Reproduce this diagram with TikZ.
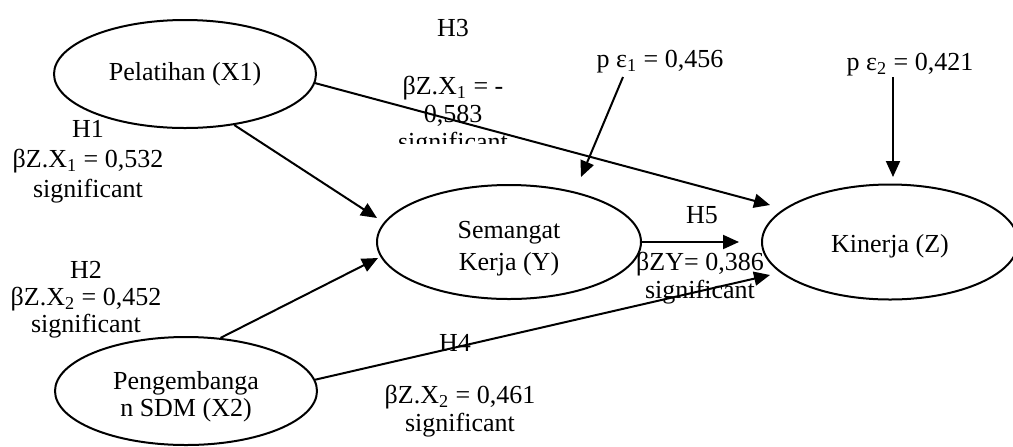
\documentclass[tikz,border=0pt]{standalone}
\usepackage{fontspec}
\setmainfont{Liberation Serif}
\usetikzlibrary{shapes.geometric,arrows.meta}
\begin{document}
\begin{tikzpicture}[x=0.5pt,y=-0.5pt,
  font=\fontsize{13pt}{15pt}\selectfont,
  var/.style={ellipse,draw,line width=1pt,inner sep=0pt,align=center},
  lbl/.style={align=center,inner sep=0pt},
  arr/.style={line width=1pt,-{Triangle[length=8pt,width=7pt]}}]
\useasboundingbox (0,0) rectangle (1013,446);
% variables
\node[var,minimum width=131pt,minimum height=54pt] (X1) at (185,74) {Pelatihan (X1)};
\node[var,minimum width=132pt,minimum height=57pt] (Y) at (509,242)
  {\raisebox{-3pt}[\height][\depth]{\begin{tabular}{@{}c@{}}Semangat\\[1pt]Kerja (Y)\end{tabular}}};
\node[var,minimum width=128pt,minimum height=57.5pt] (Z) at (890,242) {\raisebox{-2pt}[\height][\depth]{Kinerja (Z)}};
\node[var,minimum width=131pt,minimum height=54pt] (X2) at (186,391)
  {\raisebox{-3pt}[\height][\depth]{\begin{tabular}{@{}c@{}}Pengembanga\\[-1.5pt]n SDM (X2)\end{tabular}}};
% labels
\node[lbl] (h3) at (453,28) {H3};
\begin{scope}
\clip (380,60) rectangle (560,143);
\node[lbl,font=\fontsize{13pt}{14pt}\selectfont] (b3) at (453,116) {βZ.X\textsubscript{1} = -\\0,583\\significant};
\end{scope}
\node[lbl] (h1) at (88,162) {H1\\βZ.X\textsubscript{1} = 0,532\\significant};
\node[lbl,font=\fontsize{13pt}{13.5pt}\selectfont] (h2) at (86,300) {H2\\βZ.X\textsubscript{2} = 0,452\\significant};
\node[lbl] (h4) at (455,343) {H4};
\node[lbl,font=\fontsize{13pt}{14pt}\selectfont] (b4) at (460,411) {βZ.X\textsubscript{2} = 0,461\\significant};
\node[lbl] (h5) at (702,215) {H5};
\node[lbl,font=\fontsize{13pt}{14pt}\selectfont] (b5) at (700,278) {βZY= 0,386\\significant};
\node[lbl] (pe1) at (660,62) {p ε\textsubscript{1} = 0,456};
\node[lbl] (pe2) at (910,65) {p ε\textsubscript{2} = 0,421};
% connector ends
\coordinate (tY1) at (377,218);
\coordinate (tY2) at (378,258);
\coordinate (tZ1) at (770,205);
\coordinate (tZ5) at (739,242);
\coordinate (tZ4) at (770,275);
\coordinate (e1s) at (623,77);
\coordinate (e1t) at (581,177);
\coordinate (e2s) at (893,77);
\coordinate (e2t) at (893,177);
% connectors
\draw[arr] (X1.-46) -- (tY1);
\draw[arr] (X1.-4) -- (tZ1);
\draw[arr] (X2.57) -- (tY2);
\draw[arr] (X2.5) -- (tZ4);
\draw[arr] (Y.east) -- (tZ5);
\draw[arr] (e1s) -- (e1t);
\draw[arr] (e2s) -- (e2t);
\end{tikzpicture}
\end{document}
